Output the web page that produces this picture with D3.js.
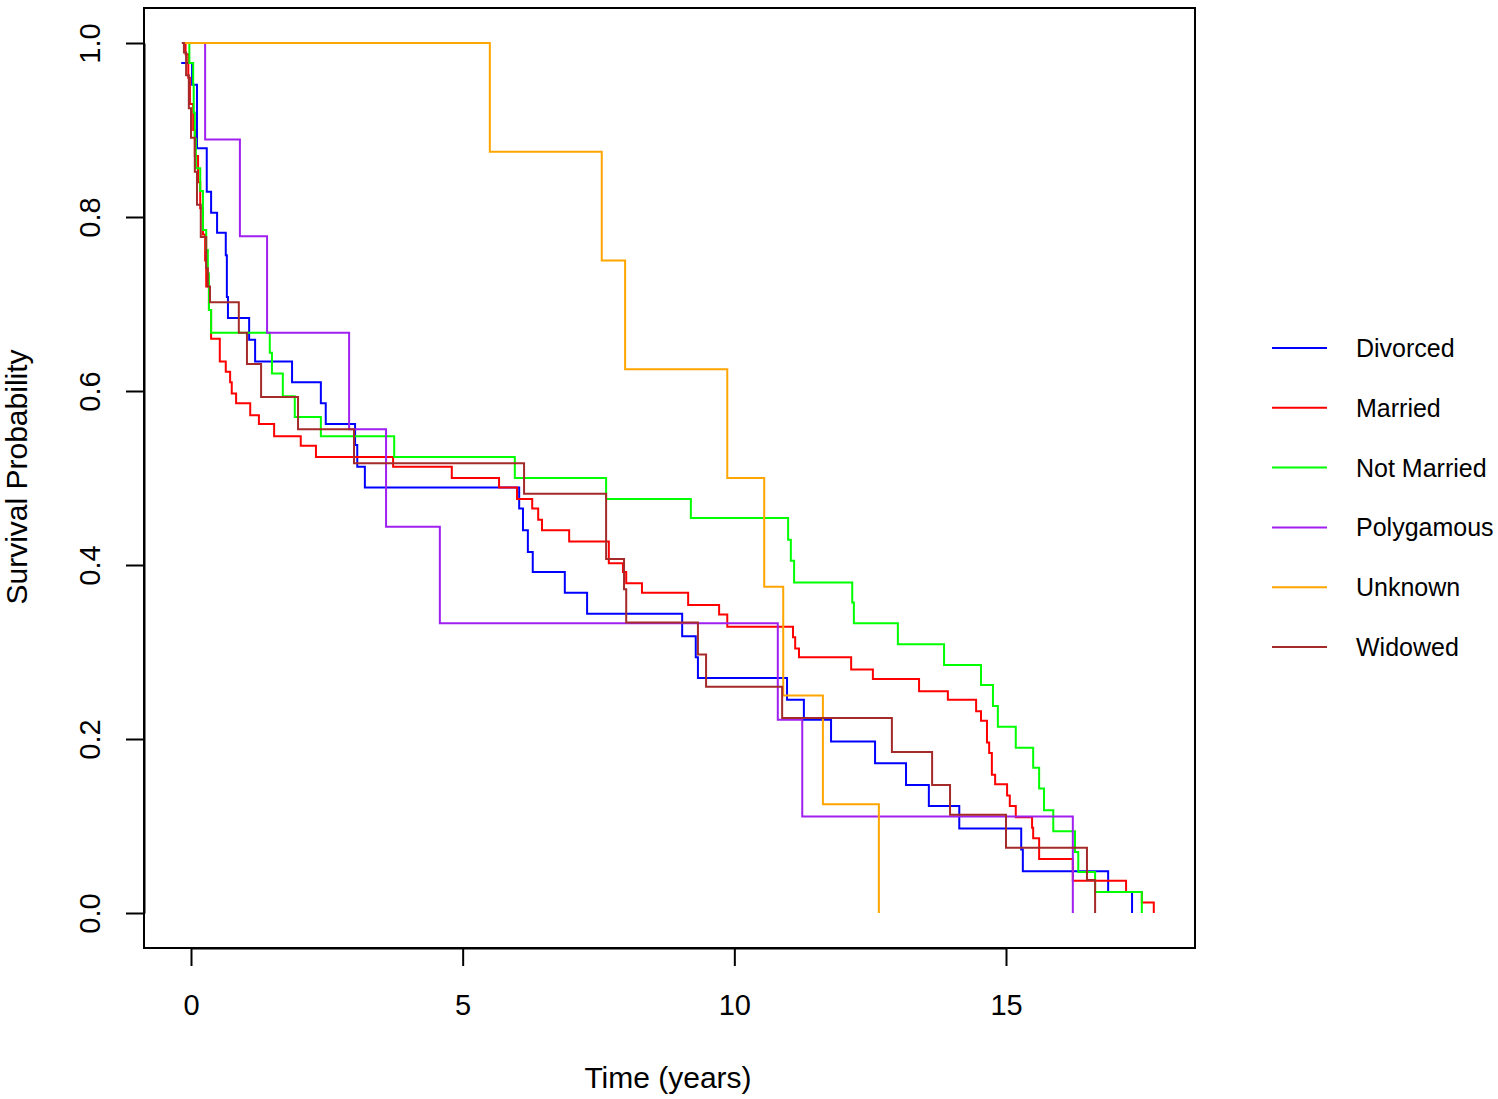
<!DOCTYPE html>
<html>
<head>
<meta charset="utf-8">
<script src="https://cdn.jsdelivr.net/npm/d3@7"></script>
<style>
  body { margin: 0; background: #fff; }
  text { font-family: "Liberation Sans", Arial, sans-serif; fill: #000; }
</style>
</head>
<body>
<script>
var width = 1498,
    height = 1099;

// Kaplan-Meier steps, [time (years), survival] : value holds from that time on
var groups = ['Divorced', 'Married', 'Not Married', 'Polygamous', 'Unknown', 'Widowed'];
var colors = ['#0000FF', '#FF0000', '#00FF00', '#A020F0', '#FFA500', '#A52A2A'];

var divorced = [[-0.18,0.977],[0.02,0.952],[0.11,0.879],[0.29,0.829],[0.37,0.805],[0.48,0.782],
  [0.64,0.756],[0.66,0.708],[0.68,0.684],[1.07,0.659],[1.18,0.634],[1.86,0.61],[2.39,0.586],
  [2.48,0.562],[3.02,0.538],[3.06,0.513],[3.2,0.489],[6.04,0.465],[6.11,0.44],[6.2,0.415],
  [6.29,0.392],[6.88,0.368],[7.29,0.344],[9.04,0.318],[9.29,0.294],[9.33,0.27],[10.97,0.245],
  [11.28,0.222],[11.78,0.197],[12.59,0.172],[13.16,0.147],[13.58,0.123],[14.14,0.097],
  [15.28,0.073],[15.31,0.048],[16.88,0.024],[17.32,0]];

var married = [[-0.15,1.0],[-0.1,0.987],[-0.05,0.96],[-0.02,0.93],[0.04,0.9],[0.07,0.87],
  [0.13,0.84],[0.17,0.81],[0.22,0.78],[0.26,0.75],[0.28,0.72],[0.33,0.693],[0.37,0.66],
  [0.53,0.634],[0.64,0.622],[0.72,0.61],[0.75,0.597],[0.83,0.586],[1.09,0.572],[1.25,0.562],
  [1.53,0.548],[2.02,0.537],[2.3,0.524],[3.72,0.513],[4.8,0.5],[5.67,0.489],[6.0,0.476],
  [6.28,0.465],[6.39,0.452],[6.46,0.44],[6.96,0.427],[7.69,0.402],[7.95,0.392],[8.01,0.379],
  [8.3,0.368],[9.15,0.354],[9.72,0.343],[9.87,0.329],[11.08,0.317],[11.12,0.304],[11.19,0.294],
  [12.15,0.28],[12.55,0.269],[13.4,0.255],[13.93,0.245],[14.45,0.232],[14.54,0.221],
  [14.65,0.196],[14.69,0.184],[14.74,0.159],[14.8,0.148],[15.02,0.135],[15.07,0.123],
  [15.18,0.11],[15.48,0.098],[15.5,0.086],[15.61,0.062],[16.23,0.037],[17.21,0.024],
  [17.5,0.012],[17.72,0]];

var notMarried = [[-0.04,1.0],[-0.03,0.977],[0.04,0.952],[0.05,0.92],[0.07,0.89],[0.09,0.856],
  [0.17,0.83],[0.22,0.785],[0.28,0.762],[0.31,0.735],[0.33,0.693],[0.37,0.667],[1.45,0.644],
  [1.49,0.62],[1.69,0.594],[1.91,0.57],[2.39,0.548],[3.74,0.524],[5.96,0.5],[7.64,0.476],
  [9.2,0.454],[10.99,0.429],[11.04,0.405],[11.1,0.38],[12.17,0.357],[12.2,0.333],[13.01,0.309],
  [13.86,0.285],[14.54,0.262],[14.76,0.238],[14.85,0.214],[15.18,0.19],[15.5,0.167],
  [15.61,0.143],[15.7,0.118],[15.87,0.094],[16.27,0.07],[16.33,0.047],[16.64,0.024],[17.5,0]];

var polygamous = [[-0.15,1.0],[0.26,0.889],[0.9,0.778],[1.4,0.667],[2.91,0.556],[3.59,0.444],
  [4.58,0.333],[10.8,0.222],[11.25,0.111],[16.23,0]];

var unknown = [[-0.15,1.0],[5.5,0.875],[7.56,0.75],[7.99,0.625],[9.87,0.5],[10.55,0.375],
  [10.9,0.25],[11.63,0.125],[12.66,0]];

var widowed = [[-0.17,1.0],[-0.13,0.989],[-0.09,0.963],[-0.04,0.925],[0.0,0.891],[0.07,0.852],
  [0.11,0.814],[0.18,0.777],[0.28,0.741],[0.31,0.72],[0.35,0.702],[0.88,0.667],[1.03,0.631],
  [1.29,0.593],[1.97,0.556],[3.0,0.517],[6.13,0.482],[7.64,0.407],[7.97,0.372],[8.01,0.334],
  [9.33,0.297],[9.48,0.26],[10.88,0.224],[12.9,0.185],[13.64,0.147],[13.97,0.113],[15.0,0.075],
  [16.49,0.038],[16.64,0]];

var series = [divorced, married, notMarried, polygamous, unknown, widowed];

var xTicks = [0, 5, 10, 15];
var yTicks = [0, 0.2, 0.4, 0.6, 0.8, 1.0];

var svg = d3.select('body')
            .append('svg')
            .attr('width', width)
            .attr('height', height)

var x = d3.scaleLinear().domain([0, 15]).range([191, 1006])
var y = d3.scaleLinear().domain([0, 1]).range([913, 43])

// plot box
svg.append('rect')
    .attr('x', 144)
    .attr('y', 8)
    .attr('width', 1195 - 144)
    .attr('height', 948 - 8)
    .attr('fill', 'none')
    .attr('stroke', '#000')
    .attr('stroke-width', 2)

var line = d3.line()
    .x(d => x(d[0]))
    .y(d => y(d[1]))
    .curve(d3.curveStepAfter)

svg.selectAll('path.km')
    .data(series)
    .enter()
    .append('path')
    .attr('class', 'km')
    .attr('d', line)
    .attr('fill', 'none')
    .attr('stroke', (d, i) => colors[i])
    .attr('stroke-width', 2)

// x axis
var xAxis = svg.append('g')
    .attr('transform', 'translate(0,948)')
    .call(d3.axisBottom(x).tickValues(xTicks).tickSize(18).tickSizeOuter(0).tickPadding(28).tickFormat(d3.format('d')))
xAxis.select('.domain').attr('stroke-width', 2)
xAxis.selectAll('.tick line').attr('stroke-width', 2)
xAxis.selectAll('.tick text').attr('font-size', 29).attr('font-family', '"Liberation Sans", Arial, sans-serif')

// y axis, labels turned like R's default
var yAxis = svg.append('g')
    .attr('transform', 'translate(144,0)')
    .call(d3.axisLeft(y).tickValues(yTicks).tickSize(18).tickSizeOuter(0).tickFormat(d3.format('.1f')))
yAxis.select('.domain').attr('stroke-width', 2)
yAxis.selectAll('.tick line').attr('stroke-width', 2)
yAxis.selectAll('.tick text')
    .attr('font-size', 29)
    .attr('font-family', '"Liberation Sans", Arial, sans-serif')
    .attr('x', null)
    .attr('dy', null)
    .attr('text-anchor', 'middle')
    .attr('transform', 'translate(-44,0) rotate(-90)')

// titles
svg.append('text')
    .attr('x', 668)
    .attr('y', 1088)
    .attr('text-anchor', 'middle')
    .attr('font-size', 30)
    .text('Time (years)')

svg.append('text')
    .attr('transform', 'translate(27,477) rotate(-90)')
    .attr('text-anchor', 'middle')
    .attr('font-size', 30)
    .text('Survival Probability')

// legend
var ly = d3.scalePoint().domain(groups).range([348, 647])
var leg = svg.selectAll('g.leg')
    .data(groups)
    .enter()
    .append('g')
    .attr('class', 'leg')
    .attr('transform', d => 'translate(0,' + ly(d) + ')')

leg.append('line')
    .attr('x1', 1272)
    .attr('x2', 1327)
    .attr('stroke', (d, i) => colors[i])
    .attr('stroke-width', 2)

leg.append('text')
    .attr('x', 1356)
    .attr('y', 9)
    .attr('font-size', 25)
    .text(d => d)
</script>
</body>
</html>
